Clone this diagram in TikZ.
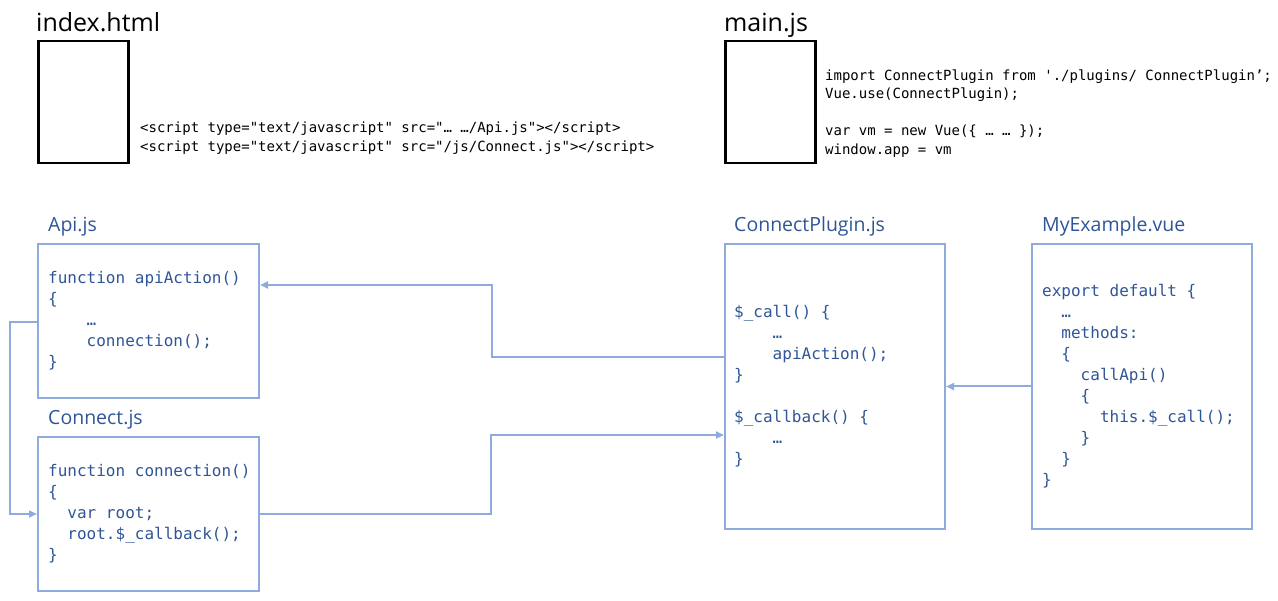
\documentclass[tikz,border=0pt]{standalone}
\usepackage{fontspec}
\setmainfont{Open Sans}
\setmonofont{DejaVu Sans Mono}
\usepackage{tikz}
\usetikzlibrary{arrows.meta, positioning}
\definecolor{boxblue}{HTML}{8FAADC}
\definecolor{textblue}{HTML}{2F5597}
\newcommand{\indtwo}{\hphantom{xx}}
\newcommand{\indfour}{\hphantom{xxxx}}
\newcommand{\indsix}{\hphantom{xxxxxx}}

\begin{document}
\begin{tikzpicture}[
    x=1pt, y=-1pt,
    filebox/.style={draw=black, line width=2.5pt, anchor=north west, minimum width=90pt, minimum height=122pt, inner sep=0pt},
    srcbox/.style={draw=boxblue, line width=2pt, anchor=north west, minimum width=221pt, inner sep=0pt},
    bigtitle/.style={anchor=base west, inner sep=0pt, font=\fontsize{25}{28}\selectfont},
    srctitle/.style={anchor=base west, inner sep=0pt, text=textblue, font=\fontsize{19.5}{22}\selectfont},
    plaincode/.style={anchor=west, inner sep=0pt, align=left, font=\fontsize{14}{18.5}\selectfont\ttfamily},
    srccode/.style={anchor=west, inner sep=0pt, align=left, text=textblue, font=\fontsize{16}{21}\selectfont\ttfamily},
    link/.style={draw=boxblue, line width=2pt, -{Triangle[length=8pt, width=7pt]}}
]
    \useasboundingbox (0,0) rectangle (1278,601);

    % Files
    \node[filebox] (index) at (37,40) {};
    \node[bigtitle] (indextitle) at (36,32) {index.html};
    \node[plaincode] (indexcode) at (140,138) {<script type="text/javascript" src="… …/Api.js"></script>\\
<script type="text/javascript" src="/js/Connect.js"></script>};

    \node[filebox] (main) at (724,40) {};
    \node[bigtitle] (maintitle) at (724,32) {main.js};
    \node[plaincode] (maincode) at (825,113.5) {import ConnectPlugin from './plugins/ ConnectPlugin’;\\
Vue.use(ConnectPlugin);\\[18.5pt]
var vm = new Vue(\{ … … \});\\
window.app = vm};

    % Sources
    \node[srcbox, minimum height=154pt] (api) at (37,243) {};
    \node[srctitle] (apititle) at (48,232) {Api.js};
    \node[srccode] (apicode) at ([xshift=11pt]api.west) {function apiAction()\\
\{\\
\indfour…\\
\indfour connection();\\
\}};

    \node[srcbox, minimum height=154pt] (connect) at (37,436) {};
    \node[srctitle] (connecttitle) at (48,425) {Connect.js};
    \node[srccode] (connectcode) at ([xshift=11pt]connect.west) {function connection()\\
\{\\
\indtwo var root;\\
\indtwo root.\$\_callback();\\
\}};

    \node[srcbox, minimum width=220pt, minimum height=285pt] (plugin) at (724,243) {};
    \node[srctitle] (plugintitle) at (734,232) {ConnectPlugin.js};
    \node[srccode] (plugincode) at ([xshift=10pt]plugin.west) {\$\_call() \{\\
\indfour…\\
\indfour apiAction();\\
\}\\[21pt]
\$\_callback() \{\\
\indfour…\\
\}};

    \node[srcbox, minimum width=220pt, minimum height=285pt] (myex) at (1031,243) {};
    \node[srctitle] (myextitle) at (1042,232) {MyExample.vue};
    \node[srccode] (myexcode) at ([xshift=11pt]myex.west) {export default \{\\
\indtwo…\\
\indtwo methods:\\
\indtwo\{\\
\indfour callApi()\\
\indfour\{\\
\indsix this.\$\_call();\\
\indfour\}\\
\indtwo\}\\
\}};

    % Calls
    \draw[link] ([yshift=29.5pt]plugin.west) -- ++(-232,0) |- ([yshift=36pt]api.east);
    \draw[link] ([yshift=-1pt]api.west) -- ++(-27,0) |- (connect.west);
    \draw[link] (connect.east) -- ++(231,0) |- ([yshift=-48.5pt]plugin.west);
    \draw[link] (myex.west) -- (plugin.east);
\end{tikzpicture}
\end{document}
